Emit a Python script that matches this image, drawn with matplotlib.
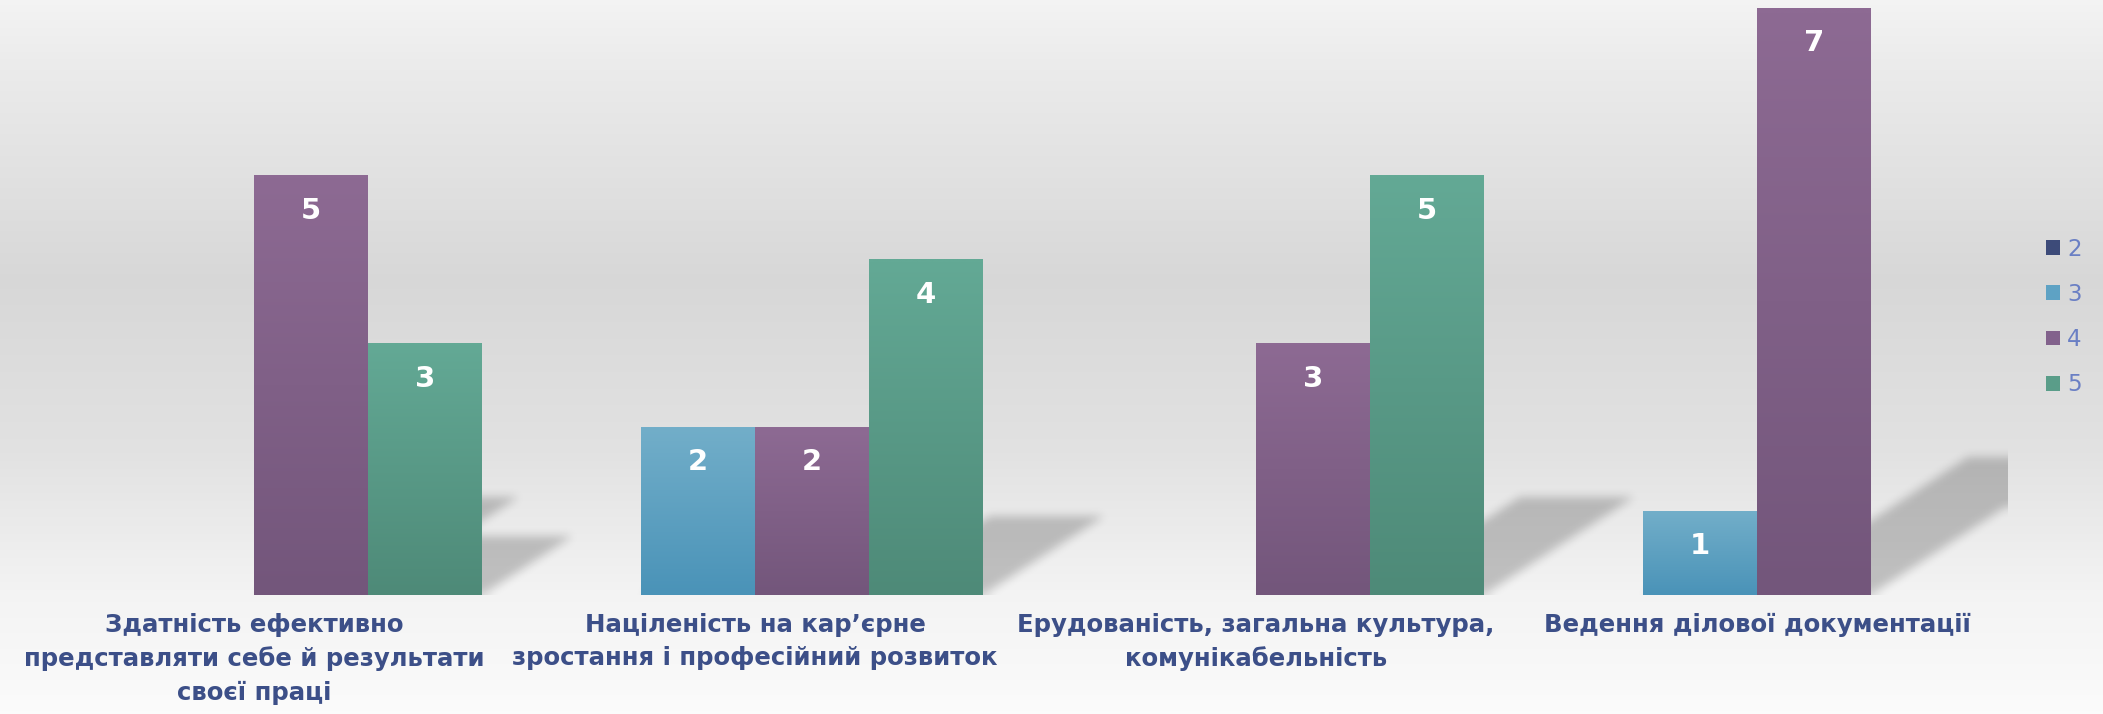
import numpy as np
import matplotlib
matplotlib.use("Agg")
import matplotlib.pyplot as plt
from matplotlib.path import Path
from matplotlib.colors import to_rgb
from matplotlib.patches import Patch

# ---------------- data ----------------
categories = [
    "Здатність ефективно\nпредставляти себе й результати\nсвоєї праці",
    "Націленість на кар’єрне\nзростання і професійний розвиток",
    "Ерудованість, загальна культура,\nкомунікабельність",
    "Ведення ділової документації",
]
series_names = ["2", "3", "4", "5"]
values_2 = [0, 0, 0, 0]
values_3 = [0, 2, 0, 1]
values_4 = [5, 2, 3, 7]
values_5 = [3, 4, 5, 0]
series_values = [values_2, values_3, values_4, values_5]

# gradient colours (top, bottom) per series
grad_top = ["#4a5a8c", "#72aec9", "#8d6a93", "#63a995"]
grad_bot = ["#323f6a", "#4a93b8", "#73567b", "#4e8a78"]
legend_cols = ["#3d4b79", "#5ea2c4", "#82628c", "#5a9d89"]

W, H, DPI = 2103, 714, 100
fig = plt.figure(figsize=(W / DPI, H / DPI), dpi=DPI)

# ---------------- background gradient ----------------
bg = fig.add_axes([0, 0, 1, 1], zorder=-10)
bg.set_axis_off()
stops_y = np.array([0, 60, 280, 450, 595, 714]) / H
stops_v = np.array([0.955, 0.925, 0.845, 0.885, 0.955, 0.985])
yy = np.linspace(0, 1, H)
col = np.interp(yy, stops_y, stops_v)
bg_img = np.repeat(col[:, None], 4, axis=1)[:, :, None].repeat(3, axis=2)
bg.imshow(bg_img, extent=(0, 1, 0, 1), origin="upper", aspect="auto")
bg.set_xlim(0, 1)
bg.set_ylim(0, 1)

# ---------------- main axes ----------------
ax_left_px, ax_right_px = 3.5, 2007.5
ax_top_px, ax_bot_px = 0, 595
ax = fig.add_axes([ax_left_px / W, (H - ax_bot_px) / H,
                   (ax_right_px - ax_left_px) / W, (ax_bot_px - ax_top_px) / H])
ax.patch.set_alpha(0)
for s in ax.spines.values():
    s.set_visible(False)

XMIN, XMAX, YMIN, YMAX = -0.5, 3.5, 0, 7.1
ax.set_xlim(XMIN, XMAX)
ax.set_ylim(YMIN, YMAX)
ax.set_yticks([])

x = np.arange(len(categories))
bw = 114 / 501
offsets = [(j - 1.5) * bw for j in range(4)]

bars_all = []
for j, vals in enumerate(series_values):
    bars = ax.bar(x + offsets[j], vals, width=bw, color=legend_cols[j],
                  linewidth=0, zorder=2)
    bars_all.append(bars)

# gradient overlay on bars + value labels
for j, bars in enumerate(bars_all):
    t = np.array(to_rgb(grad_top[j]))
    b = np.array(to_rgb(grad_bot[j]))
    g = np.linspace(0, 1, 64)[:, None]
    grad = (t[None, :] * (1 - g) + b[None, :] * g)[:, None, :]
    for p, v in zip(bars, series_values[j]):
        if v <= 0:
            continue
        x0, w, h = p.get_x(), p.get_width(), p.get_height()
        ax.imshow(grad, extent=(x0, x0 + w, 0, h), origin="upper",
                  aspect="auto", zorder=2.5, interpolation="bilinear")
        ax.annotate(f"{v}", (x0 + w / 2, h), xytext=(0, -35 * 72 / DPI),
                    textcoords="offset points", ha="center", va="center",
                    color="white", fontsize=21, fontweight="bold", zorder=4)
ax.set_xlim(XMIN, XMAX)
ax.set_ylim(YMIN, YMAX)

# ---------------- cast shadows ----------------
sx, sy = 0.06, 0.234  # shadow displacement per unit of bar height
nx, ny = int(ax_right_px - ax_left_px), int(ax_bot_px - ax_top_px)
gx = np.linspace(XMIN, XMAX, nx)
gy = np.linspace(YMIN, YMAX, ny)
GX, GY = np.meshgrid(gx, gy)
pts = np.column_stack([GX.ravel(), GY.ravel()])
mask = np.zeros(GX.size, dtype=float)
for j, bars in enumerate(bars_all):
    for p, v in zip(bars, series_values[j]):
        if v <= 0:
            continue
        L, R, h = p.get_x(), p.get_x() + p.get_width(), p.get_height()
        poly = Path([(L, 0), (R, 0), (R + sx * h, sy * h), (L + sx * h, sy * h), (L, 0)])
        mask = np.maximum(mask, poly.contains_points(pts).astype(float))
mask = mask.reshape(ny, nx)


def box_blur(a, r, axis):
    pad = [(0, 0), (0, 0)]
    pad[axis] = (r + 1, r)
    ap = np.pad(a, pad, mode="edge")
    c = np.cumsum(ap, axis=axis)
    if axis == 0:
        return (c[2 * r + 1:, :] - c[:-2 * r - 1, :]) / (2 * r + 1)
    return (c[:, 2 * r + 1:] - c[:, :-2 * r - 1]) / (2 * r + 1)


for _ in range(3):
    mask = box_blur(mask, 4, 0)
    mask = box_blur(mask, 4, 1)

shadow = np.zeros((ny, nx, 4))
shadow[..., 3] = mask * 0.21
ax.imshow(shadow, extent=(XMIN, XMAX, YMIN, YMAX), origin="lower",
          aspect="auto", zorder=1, interpolation="bilinear")
ax.set_xlim(XMIN, XMAX)
ax.set_ylim(YMIN, YMAX)

# ---------------- category labels ----------------
ax.set_xticks(x)
ax.set_xticklabels(categories, fontsize=17.6, fontweight="bold", color="#3c4f88",
                   linespacing=1.48)
ax.tick_params(axis="x", length=0, pad=13)

# ---------------- legend ----------------
handles = [Patch(facecolor=legend_cols[j], edgecolor="none") for j in range(4)]
leg = fig.legend(handles, series_names, loc="center left",
                 bbox_to_anchor=(2046 / W, 1 - 317 / H), frameon=False,
                 fontsize=16.5, handlelength=0.62, handleheight=0.62,
                 handletextpad=0.3, labelspacing=0.97, borderaxespad=0,
                 borderpad=0)
for t in leg.get_texts():
    t.set_color("#6a7fc4")

fig.savefig("out.png", dpi=DPI)
